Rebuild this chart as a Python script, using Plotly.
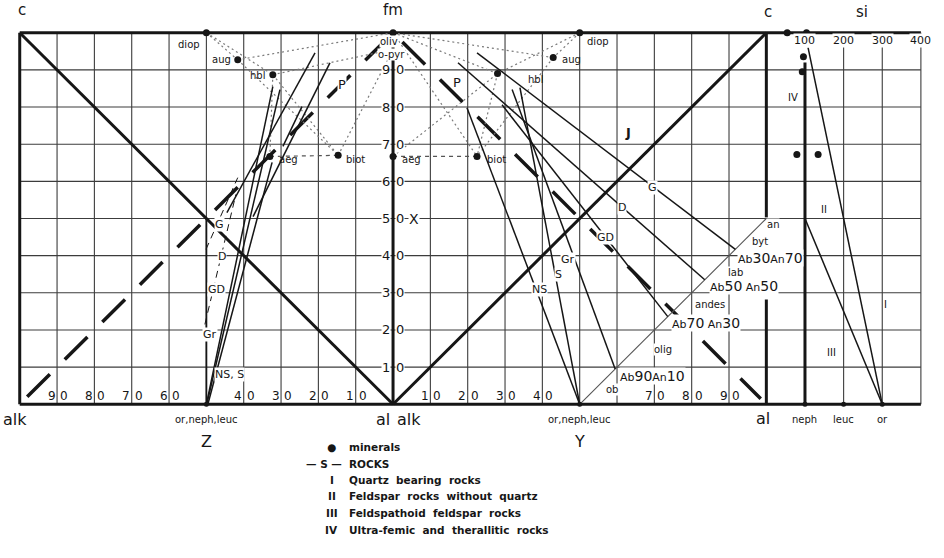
import plotly.graph_objects as go

# ---------------------------------------------------------------
# Shared x scale: left square 0..100 (alk -> al), middle square
# 100..200 (alk -> c), si strip to the right of the c line.
# ---------------------------------------------------------------
SI_K = 0.1035            # x units per si unit in the right strip
X_SI0 = 200.0            # si = 0 sits on the c line


def si_x(si):
    return X_SI0 + si * SI_K


X_MAX = si_x(400)
X_RANGE = [-1, 242.5]
Y_RANGE = [-1, 101]

# mineral points
min_names = ["oliv", "diop", "aug", "hbl", "aeg", "biot"]
min_left_x = [100.0, 50.0, 58.4, 67.8, 67.0, 85.3]
min_left_y = [100.0, 100.0, 92.7, 88.7, 66.7, 67.0]
min_mid_x = [100.0, 150.0, 142.9, 128.0, 100.0, 122.5]
min_mid_y = [100.0, 100.0, 93.3, 89.0, 66.7, 66.7]
opyr_y = 95.5

# mineral points in the si strip
min_si = [54, 104, 96, 93, 79, 134]
min_si_y = [100.0, 100.0, 93.5, 89.5, 67.2, 67.2]

# tie lines between minerals
tie_left = [("diop", "aug"), ("diop", "hbl"), ("aug", "oliv"), ("hbl", "o-pyr"),
            ("aug", "biot"), ("hbl", "biot"), ("hbl", "aeg"), ("biot", "o-pyr")]
tie_mid = [("oliv", "aug"), ("oliv", "hbl"), ("diop", "aug"), ("diop", "hbl"),
           ("aug", "biot"), ("aeg", "hbl"), ("oliv", "biot"), ("hbl", "biot")]

# plagioclase series on the line from Y (150, 0) to an (200, 50)
plag_names = ["Ab90An10", "Ab70An30", "Ab50An50", "Ab30An70"]
plag_t = [9.5, 23.6, 33.5, 41.7]

# rock lines, middle square: upper end -> plagioclase point (or Y)
rock_mid_names = ["G", "D", "GD", "Gr", "S", "NS"]
rock_mid_x0 = [122.5, 117.4, 129.2, 131.9, 134.0, 119.8]
rock_mid_y0 = [94.6, 91.9, 80.6, 84.7, 85.2, 79.8]
rock_mid_end = ["Ab30An70", "Ab50An50", "Ab70An30", "Ab90An10", "Y", "Y"]

# rock lines, left square
rock_left_x0 = [50.0, 50.1, 50.4, 55.5, 62.5, 70.5]
rock_left_y0 = [0.0, 0.0, 0.0, 51.6, 50.5, 69.4]
rock_left_x1 = [67.8, 69.7, 67.6, 79.1, 83.1, 75.6]
rock_left_y1 = [85.5, 84.7, 65.1, 94.6, 91.9, 80.1]
rock_left_dash_x0 = [49.6, 49.9]
rock_left_dash_y0 = [21.5, 41.7]
rock_left_dash_x1 = [57.9, 58.4]
rock_left_dash_y1 = [56.5, 61.0]

# si strip field boundaries (si, y) -> (si, y)
field_si0 = [108, 100]
field_y0 = [96.0, 50.0]
field_si1 = [300, 300]
field_y1 = [0.0, 0.0]

# scale labels
bottom_left_ticks = [10, 20, 30, 40, 60, 70, 80, 90]
bottom_left_text = ["90", "80", "70", "60", "40", "30", "20", "10"]
bottom_mid_ticks = [110, 120, 130, 140, 170, 180, 190]
bottom_mid_text = ["10", "20", "30", "40", "70", "80", "90"]
fm_ticks = [10, 20, 30, 40, 50, 60, 70, 80, 90]
si_ticks = [100, 200, 300, 400]

INK = "#161616"
FONT = "DejaVu Sans"

fig = go.Figure()


def add_lines(xs, ys, width=1.5, color=INK, dash=None):
    fig.add_trace(go.Scatter(x=xs, y=ys, mode="lines",
                             line=dict(color=color, width=width, dash=dash),
                             hoverinfo="skip", showlegend=False))


def segs(x0, y0, x1, y1):
    xs, ys = [], []
    for a, b, c, d in zip(x0, y0, x1, y1):
        xs += [a, c, None]
        ys += [b, d, None]
    return xs, ys


# ---- grid ----
shapes = []
GRID = dict(color="#3c3c3c", width=1.1)
for k in range(1, 20):
    if k == 10:
        continue
    shapes.append(dict(type="line", x0=10 * k, x1=10 * k, y0=0, y1=100,
                       line=GRID, layer="below"))
for si in si_ticks[1:]:
    shapes.append(dict(type="line", x0=si_x(si), x1=si_x(si), y0=0, y1=100,
                       line=GRID, layer="below"))
for k in range(1, 10):
    shapes.append(dict(type="line", x0=0, x1=X_MAX, y0=10 * k, y1=10 * k,
                       line=GRID, layer="below"))

# ---- heavy frame ----
THICK = 3
add_lines([0, X_MAX], [100, 100], THICK)
add_lines([0, X_MAX], [0, 0], THICK)
add_lines([0, 0], [0, 100], THICK)
add_lines([100, 100], [0, 100], THICK)
add_lines([200, 200, None, 200, 200], [100, 50.3, None, 28.2, 0], THICK)
add_lines([si_x(100), si_x(100)], [0, 92], THICK)
add_lines([50, 50], [0, 50], 1.8)
# diagonals
add_lines([0, 100], [100, 0], THICK)
add_lines([100, 200], [0, 100], THICK)
# long-dash guide lines
add_lines([2, 98], [2, 98], 3.5, dash="32px,21px")
add_lines([102.5, 198.5], [97.5, 1.5], 3.5, dash="32px,21px")

# ---- plagioclase line ----
add_lines([150, 200], [0, 50], 1.1, color="#555555")


# ---- mineral tie lines ----
def mineral_xy(name, xs, ys):
    if name == "o-pyr":
        return 100.0, opyr_y
    i = min_names.index(name)
    return xs[i], ys[i]


for ties, xs_, ys_ in ((tie_left, min_left_x, min_left_y), (tie_mid, min_mid_x, min_mid_y)):
    tx, ty = [], []
    for a, b in ties:
        ax, ay = mineral_xy(a, xs_, ys_)
        bx, by = mineral_xy(b, xs_, ys_)
        tx += [ax, bx, None]
        ty += [ay, by, None]
    add_lines(tx, ty, 1.2, color="#7a7a7a", dash="2px,3px")
# aeg - biot links
add_lines([min_left_x[4], min_left_x[5]], [min_left_y[4], min_left_y[5]], 1.2, "#555555", "4px,4px")
add_lines([min_mid_x[4], min_mid_x[5]], [min_mid_y[4], min_mid_y[5]], 1.2, "#555555", "4px,4px")

# ---- rock lines ----
xs, ys = segs(rock_left_x0, rock_left_y0, rock_left_x1, rock_left_y1)
add_lines(xs, ys, 1.5)
xs, ys = segs(rock_left_dash_x0, rock_left_dash_y0, rock_left_dash_x1, rock_left_dash_y1)
add_lines(xs, ys, 1.0, dash="7px,5px")

end_x, end_y = [], []
for e in rock_mid_end:
    if e == "Y":
        end_x.append(150.0)
        end_y.append(0.0)
    else:
        t = plag_t[plag_names.index(e)]
        end_x.append(150.0 + t)
        end_y.append(t)
xs, ys = segs(rock_mid_x0, rock_mid_y0, end_x, end_y)
add_lines(xs, ys, 1.5)

# si strip field boundaries
xs, ys = segs([si_x(s) for s in field_si0], field_y0, [si_x(s) for s in field_si1], field_y1)
add_lines(xs, ys, 1.5)

# ---- mineral dots ----
fig.add_trace(go.Scatter(x=min_left_x[1:] + min_mid_x + [si_x(s) for s in min_si],
                         y=min_left_y[1:] + min_mid_y + min_si_y,
                         mode="markers", marker=dict(color=INK, size=7),
                         cliponaxis=False, hoverinfo="skip", showlegend=False))
fig.add_trace(go.Scatter(x=[50, 150, si_x(100), si_x(200), si_x(300)], y=[0, 0, 0, 0, 0],
                         mode="markers", marker=dict(color=INK, size=5),
                         cliponaxis=False, hoverinfo="skip", showlegend=False))

# ---- text ----
ann = []


def lab(text, x, y, size=11, anchor="center", bg=None, xshift=0):
    # positions given in data units, placed through paper coordinates so
    # that labels outside the plotting box are kept
    px = (x - X_RANGE[0]) / (X_RANGE[1] - X_RANGE[0])
    py = (y - Y_RANGE[0]) / (Y_RANGE[1] - Y_RANGE[0])
    d = dict(text=text, x=px, y=py, xref="paper", yref="paper", showarrow=False,
             xanchor=anchor, yanchor="middle", xshift=xshift,
             font=dict(family=FONT, size=size, color=INK))
    if bg:
        d.update(bgcolor=bg, borderpad=0)
    ann.append(d)


# corner / vertex labels
lab("c", 0.6, 106.2, 15)
lab("fm", 100, 106.2, 15)
lab("c", 200.5, 105.7, 15)
lab("si", 225.7, 105.7, 15)
lab("alk", -1.2, -4.0, 16)
lab("al", 97.4, -4.0, 16)
lab("alk", 104.4, -4.0, 16)
lab("al", 199.0, -3.8, 16)
lab("or,neph,leuc", 50, -4.2, 10)
lab("or,neph,leuc", 150, -4.2, 10)
lab("Z", 50, -9.9, 16)
lab("Y", 150, -9.9, 16)
lab("neph", si_x(100), -4.2, 10)
lab("leuc", si_x(200), -4.2, 10)
lab("or", si_x(300), -4.2, 10)

# bottom scales: the grid line runs between the two digits
for xt, tt in zip(bottom_left_ticks + bottom_mid_ticks, bottom_left_text + bottom_mid_text):
    lab(tt[0], xt, 2.3, 12, anchor="right", xshift=0.5)
    lab(tt[1], xt, 2.3, 12, anchor="left", xshift=1.0)
# fm axis scale
for yt in fm_ticks:
    s = str(yt)
    lab(s[0], 100, yt, 13, anchor="right", bg="white", xshift=-2)
    lab(s[1], 100, yt, 13, anchor="left", bg="white", xshift=2)
lab("X", 105.6, 50, 14, bg="white")
# si scale
for s in si_ticks:
    lab(str(s), si_x(s), 98.0, 11, bg="white")

# minerals
lab("diop", 48.8, 96.8, 10, anchor="right")
lab("aug", 57.0, 92.7, 10, anchor="right")
lab("hbl", 66.3, 88.4, 10, anchor="right")
lab("aeg", 69.0, 65.9, 10, anchor="left")
lab("biot", 86.8, 65.9, 10, anchor="left")
lab("oliv", 98.8, 97.6, 10, bg="white")
lab("o-pyr", 99.6, 94.1, 10, bg="white")
lab("diop", 151.5, 97.6, 10, anchor="left")
lab("aug", 144.8, 92.7, 10, anchor="left")
lab("hbl", 135.7, 87.4, 10, anchor="left")
lab("aeg", 101.9, 65.9, 10, anchor="left")
lab("biot", 124.7, 65.9, 10, anchor="left")
lab("P", 86.3, 86.0, 13, bg="white")
lab("P", 117.2, 86.6, 13)
lab("<b>J</b>", 163.0, 73.1, 13)

# rocks
for t, x, y in [("G", 53.6, 48.4), ("D", 54.2, 39.8), ("GD", 52.8, 30.9),
                ("Gr", 50.9, 18.8), ("NS, S", 56.3, 8.1),
                ("G", 169.4, 58.3), ("D", 161.4, 53.0), ("GD", 156.8, 44.9),
                ("Gr", 146.9, 39.0), ("S", 144.2, 35.0), ("NS", 139.1, 30.9)]:
    lab(t, x, y, 11, bg="white")

# plagioclase names
BIG = "<span style='font-size:14px'>%s</span>"
for name, x, y in [("Ab30An70", 201.0, 39.5), ("Ab50An50", 194.1, 31.7),
                   ("Ab70An30", 183.9, 22.0), ("Ab90An10", 169.4, 7.5)]:
    gap = " " if name in ("Ab50An50", "Ab70An30") else ""
    txt = "Ab" + BIG % name[2:4] + gap + "An" + BIG % name[6:8]
    lab(txt, x, y, 11, bg="white")
for t, x, y in [("an", 201.9, 48.4), ("byt", 198.4, 43.8), ("lab", 191.7, 35.5),
                ("andes", 185.0, 26.9), ("olig", 172.4, 14.8), ("ob", 158.7, 4.0)]:
    lab(t, x, y, 10, bg="white")

# si strip fields
lab("IV", 207.2, 82.5, 10)
lab("II", 215.5, 52.4, 10)
lab("III", 217.4, 14.0, 10)
lab("I", 231.9, 26.9, 10)

# key
KEY_X = 87.7
SP = "&nbsp; "
for sym, txt, y in [("●", "minerals", -11.6), ("— S —", "ROCKS", -16.1),
                    ("I", "Quartz bearing rocks", -20.4),
                    ("II", "Feldspar rocks without quartz", -24.7),
                    ("III", "Feldspathoid feldspar rocks", -29.3),
                    ("IV", "Ultra-femic and therallitic rocks", -33.9)]:
    lab("<b>%s</b>" % sym, 83.6 if sym != "— S —" else 81.5, y, 10.5)
    lab("<b>%s</b>" % txt.replace(" ", SP), KEY_X, y, 10.5, anchor="left")

fig.update_layout(
    width=944, height=558,
    margin=dict(l=16, r=19, t=29, b=150, pad=0),
    paper_bgcolor="white", plot_bgcolor="white",
    xaxis=dict(range=X_RANGE, visible=False, fixedrange=True),
    yaxis=dict(range=Y_RANGE, visible=False, fixedrange=True),
    shapes=shapes, annotations=ann,
)

fig.write_html("out.html")
